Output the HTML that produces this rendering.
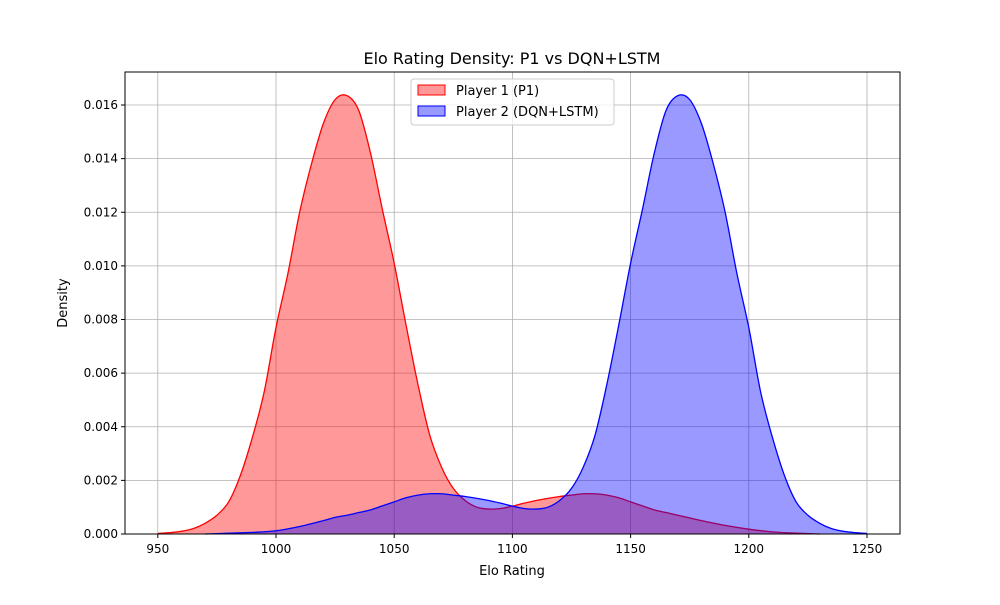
<!DOCTYPE html>
<html><head><meta charset="utf-8"><style>
body{margin:0;background:#fff;font-family:"Liberation Sans","DejaVu Sans",sans-serif}
svg text{font-family:"DejaVu Sans","Liberation Sans",sans-serif}
</style></head><body>
<svg id="chart" width="1000" height="600" xmlns="http://www.w3.org/2000/svg">
<rect width="1000" height="600" fill="#fff"/>
<g id="grid"></g>
<g id="series"></g>
<g id="axes"></g>
<text x="512" y="64" font-size="16" text-anchor="middle">Elo Rating Density: P1 vs DQN+LSTM</text>
<text x="512" y="575" font-size="13" text-anchor="middle">Elo Rating</text>
<text x="67" y="303" font-size="13" text-anchor="middle" transform="rotate(-90 67 303)">Density</text>
<g>
<rect x="411" y="79" width="203" height="46" rx="3" fill="#fff" fill-opacity="0.8" stroke="#ccc"/>
<rect x="418" y="85" width="27" height="10" fill="rgba(255,0,0,0.4)" stroke="red"/>
<text x="456" y="95" font-size="13">Player 1 (P1)</text>
<rect x="418" y="106" width="27" height="10" fill="rgba(0,0,255,0.4)" stroke="blue"/>
<text x="456" y="116" font-size="13">Player 2 (DQN+LSTM)</text>
</g>
</svg>
<script>
const xTicks=[950,1000,1050,1100,1150,1200,1250];
const yTicks=[0,0.002,0.004,0.006,0.008,0.010,0.012,0.014,0.016];
const p1X=[950,955,960,965,970,975,980,985,990,995,1000,1005,1010,1015,1020,1025,1030,1035,1040,1045,1050,1055,1060,1065,1070,1075,1080,1085,1090,1095,1100,1105,1110,1115,1120,1125,1130,1135,1140,1145,1150,1155,1160,1165,1170,1175,1180,1190,1200,1210,1220,1230];
const p1Y=[0.00002,0.00005,0.0001,0.0002,0.0004,0.0007,0.0012,0.0022,0.0036,0.0053,0.0077,0.0097,0.0120,0.0138,0.0153,0.0162,0.01635,0.0158,0.0142,0.0121,0.0101,0.0078,0.0056,0.0037,0.0025,0.0017,0.00125,0.0010,0.00093,0.00095,0.00104,0.00115,0.00125,0.00133,0.0014,0.00145,0.0015,0.0015,0.00145,0.00135,0.0012,0.00105,0.0009,0.0008,0.0007,0.0006,0.0005,0.00032,0.00018,0.00008,0.00003,0];
const p2X=[970,980,990,1000,1010,1020,1025,1030,1035,1040,1045,1050,1055,1060,1065,1070,1075,1080,1085,1090,1095,1100,1105,1110,1115,1120,1125,1130,1135,1140,1145,1150,1155,1160,1165,1170,1175,1180,1185,1190,1195,1200,1205,1210,1215,1220,1225,1230,1235,1240,1245,1250];
const p2Y=[0,0.00003,0.00006,0.00012,0.00028,0.0005,0.00062,0.0007,0.0008,0.0009,0.00105,0.0012,0.00135,0.00145,0.0015,0.0015,0.00145,0.0014,0.00133,0.00125,0.00115,0.00104,0.00095,0.00093,0.0010,0.00125,0.0017,0.0025,0.0037,0.0056,0.0078,0.0101,0.0121,0.0142,0.0158,0.01635,0.0162,0.0153,0.0138,0.0120,0.0097,0.0077,0.0053,0.0036,0.0022,0.0012,0.0007,0.0004,0.0002,0.0001,0.00005,0.00002];
const L=125,R=900,T=72,B=534;
const sx=v=>276+(v-1000)*(867-276)/250;
const sy=v=>B-v*(B-105)/0.016;
const NS='http://www.w3.org/2000/svg';
function mk(tag,attrs,parent){const e=document.createElementNS(NS,tag);for(const k in attrs)e.setAttribute(k,attrs[k]);parent.appendChild(e);return e;}
const grid=document.getElementById('grid'),axes=document.getElementById('axes'),ser=document.getElementById('series');
xTicks.forEach(t=>{const x=sx(t);
const g=mk('line',{x1:x,x2:x,y1:T,y2:B,stroke:'#b0b0b0','stroke-width':0.8},grid);


mk('line',{x1:x,x2:x,y1:B,y2:B+4,stroke:'#000'},axes);
const tx=mk('text',{x:x,y:B+19,'font-size':12,'text-anchor':'middle'},axes);tx.textContent=t;

});
yTicks.forEach(t=>{const y=sy(t);
const g=mk('line',{x1:L,x2:R,y1:y,y2:y,stroke:'#b0b0b0','stroke-width':0.8},grid);


mk('line',{x1:L-4,x2:L,y1:y,y2:y,stroke:'#000'},axes);
const tx=mk('text',{x:L-7,y:y+4,'font-size':12,'text-anchor':'end'},axes);tx.textContent=t.toFixed(3);

});
const frame=mk('rect',{x:L,y:T,width:R-L,height:B-T,fill:'none',stroke:'#000','stroke-width':1},axes);


function curve(xs,ys){const p=xs.map((x,i)=>[sx(x),sy(ys[i])]);let d='M'+p[0][0]+','+p[0][1];
for(let i=0;i<p.length-1;i++){const p0=p[i-1]||p[i],p1=p[i],p2=p[i+1],p3=p[i+2]||p2;
const c1=[p1[0]+(p2[0]-p0[0])/6,p1[1]+(p2[1]-p0[1])/6],c2=[p2[0]-(p3[0]-p1[0])/6,p2[1]-(p3[1]-p1[1])/6];
d+=` C${c1[0]},${Math.min(B,c1[1])} ${c2[0]},${Math.min(B,c2[1])} ${p2[0]},${p2[1]}`;}return [d,p];}
function draw(xs,ys,col,fill,name){const [d,p]=curve(xs,ys);
const a=mk('path',{d:d+` L${p[p.length-1][0]},${B} L${p[0][0]},${B} Z`,fill:fill,stroke:'none'},ser);


const l=mk('path',{d:d,fill:'none',stroke:col,'stroke-width':1.3},ser);

}
draw(p1X,p1Y,'red','rgba(255,0,0,0.4)','p1-density');
draw(p2X,p2Y,'blue','rgba(0,0,255,0.4)','p2-density');
</script>
</body></html>
